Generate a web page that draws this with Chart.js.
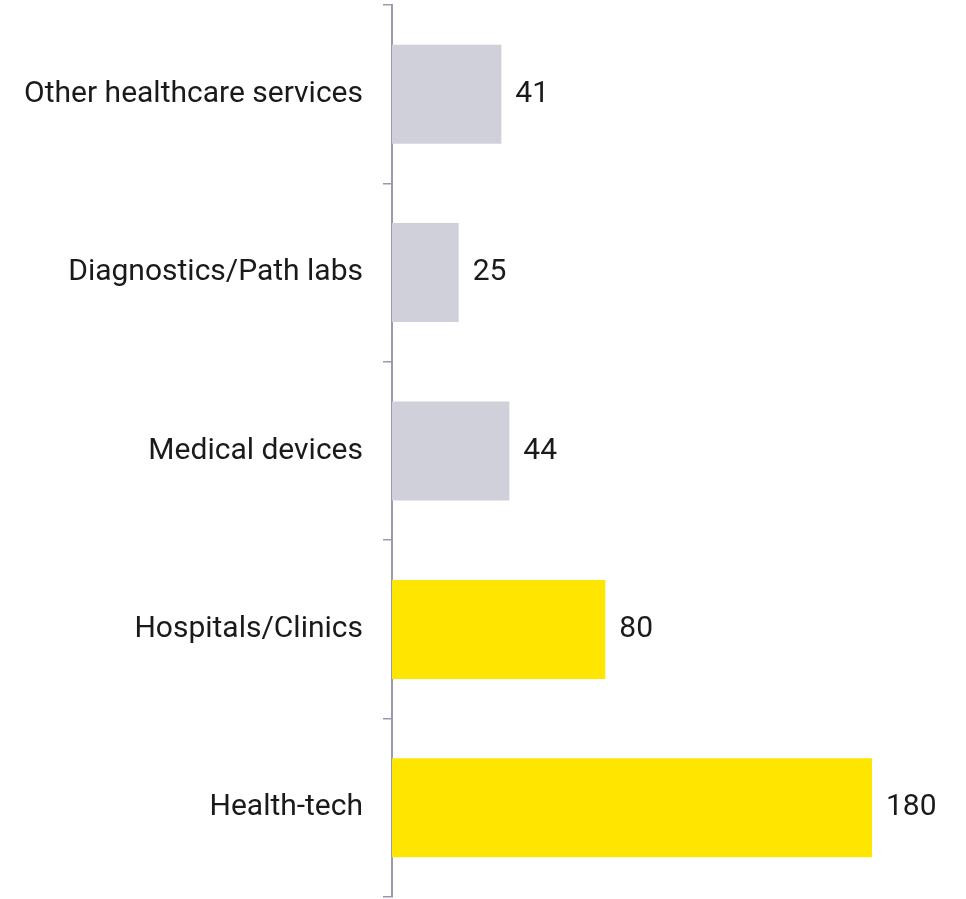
<!DOCTYPE html>
<html>
<head>
<meta charset="utf-8">
<script src="https://cdn.jsdelivr.net/npm/chart.js@4/dist/chart.umd.min.js"></script>
<style>
  html, body { margin: 0; padding: 0; background: #fff; }
  #wrap { width: 966px; height: 899px; }
</style>
</head>
<body>
<div id="wrap"><canvas id="dealChart"></canvas></div>
<script>
const categories = ['Other healthcare services', 'Diagnostics/Path labs', 'Medical devices', 'Hospitals/Clinics', 'Health-tech'];
const dealCounts = [41, 25, 44, 80, 180];
const barColors = ['#d0d0da', '#d0d0da', '#d0d0da', '#ffe600', '#ffe600'];

const fontFamily = 'Roboto, "DejaVu Sans", sans-serif';

// writes each bar's value just past its end
const valueLabels = {
    id: 'valueLabels',
    afterDatasetsDraw(chart) {
        const ctx = chart.ctx;
        const meta = chart.getDatasetMeta(0);
        ctx.save();
        ctx.font = '30px ' + fontFamily;
        ctx.fillStyle = '#1a1a1a';
        ctx.textAlign = 'left';
        ctx.textBaseline = 'middle';
        meta.data.forEach((bar, i) => {
            const x = chart.scales.x.getPixelForValue(dealCounts[i]);
            ctx.fillText(dealCounts[i], x + 14, bar.y);
        });
        ctx.restore();
    }
};

new Chart(document.getElementById('dealChart'), {
    type: 'bar',
    data: {
        labels: categories,
        datasets: [{
            data: dealCounts,
            backgroundColor: barColors,
            borderWidth: 0,
            barPercentage: 0.555,
            categoryPercentage: 1
        }]
    },
    options: {
        indexAxis: 'y',
        responsive: true,
        maintainAspectRatio: false,
        animation: false,
        layout: { padding: { top: 5, bottom: 2, left: 0, right: 14 } },
        plugins: {
            legend: { display: false },
            tooltip: { enabled: false }
        },
        scales: {
            x: {
                display: false,
                min: 0,
                max: 210
            },
            y: {
                // fixed axis position, no extra room above/below for labels
                afterFit(scale) {
                    scale.width = 392;
                    scale.paddingTop = 0;
                    scale.paddingBottom = 0;
                },
                border: { display: true, color: '#9c98b2', width: 2 },
                grid: {
                    offset: true,
                    drawOnChartArea: false,
                    drawTicks: true,
                    tickLength: 9,
                    color: '#9c98b2',
                    lineWidth: 1.5
                },
                ticks: {
                    color: '#1a1a1a',
                    padding: 20,
                    font: { family: fontFamily, size: 30 }
                }
            }
        }
    },
    plugins: [valueLabels]
});
</script>
</body>
</html>
